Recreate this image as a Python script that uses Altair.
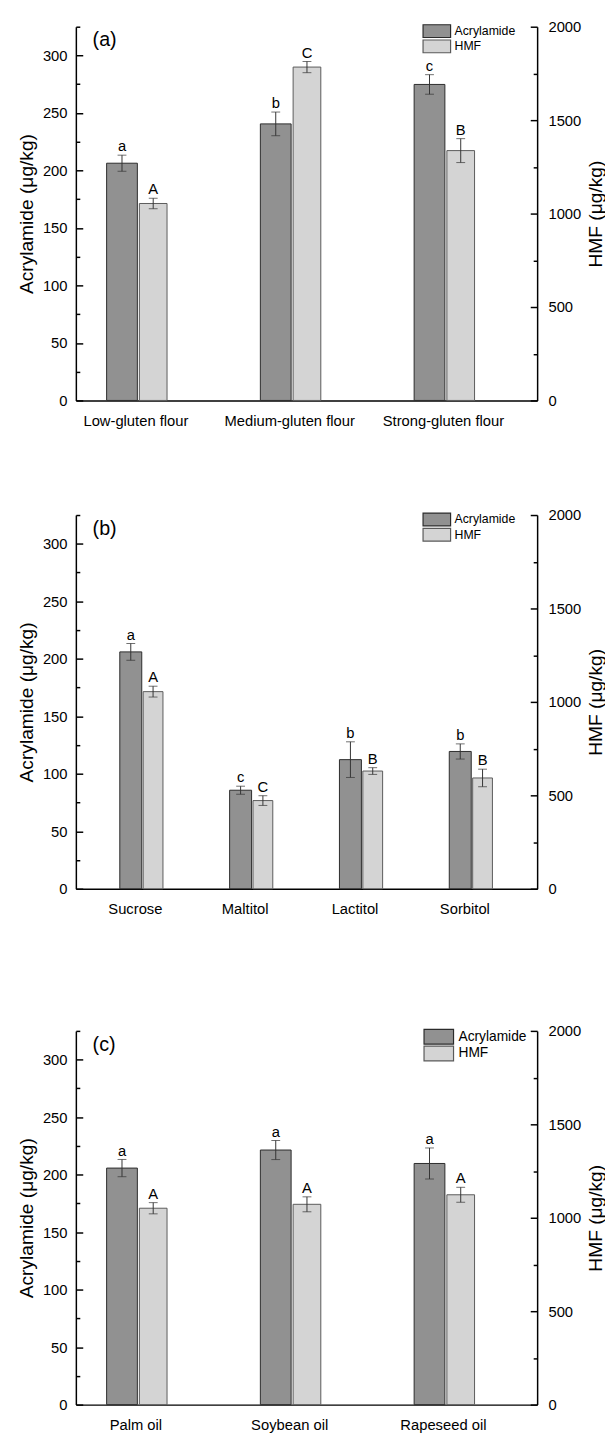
import json
import altair as alt
import pandas as pd

FONT = "Liberation Sans"

# ---------------- data ----------------
series_names = ["Acrylamide", "HMF"]

cats_a = ["Low-gluten flour", "Medium-gluten flour", "Strong-gluten flour"]
acr_a = [206.3, 240.5, 274.8]
acr_err_a = [7.0, 10.3, 8.5]
hmf_a = [1054, 1784, 1337]
hmf_err_a = [28, 30, 64]
let_acr_a = ["a", "b", "c"]
let_hmf_a = ["A", "C", "B"]

cats_b = ["Sucrose", "Maltitol", "Lactitol", "Sorbitol"]
acr_b = [206.0, 85.7, 112.3, 119.4]
acr_err_b = [7.3, 3.5, 15.5, 6.6]
hmf_b = [1055, 472, 630, 593]
hmf_err_b = [29, 26, 18, 47]
let_acr_b = ["a", "c", "b", "b"]
let_hmf_b = ["A", "C", "B", "B"]

cats_c = ["Palm oil", "Soybean oil", "Rapeseed oil"]
acr_c = [205.7, 221.4, 209.7]
acr_err_c = [7.5, 8.3, 13.5]
hmf_c = [1051, 1072, 1123]
hmf_err_c = [30, 40, 40]
let_acr_c = ["a", "a", "a"]
let_hmf_c = ["A", "A", "A"]

left_ticks = list(range(0, 326, 25))
right_ticks = list(range(0, 2001, 250))

# ---------------- style ----------------
C_ACR = "#919191"
C_HMF = "#d4d4d4"
S_ACR = "#2b2b2b"
S_HMF = "#5a5a5a"
ERR = "#333333"
W, H = 469, 380
TITLE_FS = 19.5


def y_axis_left():
    return alt.Axis(
        title="Acrylamide (μg/kg)", values=left_ticks, grid=False, format="d",
        labelExpr="datum.value % 50 === 0 ? datum.label : ''",
        tickSize={"condition": {"test": "datum.value % 50 === 0", "expr": "-7"}, "expr": "-4"},
        labelPadding=16, tickColor="black", tickWidth=1.5, domainColor="black",
        domainWidth=1.5, labelFontSize=15, labelColor="black", labelFont=FONT,
        labelOverlap=False, titleFontSize=TITLE_FS, titleFontWeight="normal",
        titleColor="black", titleFont=FONT, titleX=-50.5, titleY=H / 2,
        titleAngle=270, titleAlign="center", titleBaseline="middle",
    )


def y_axis_right():
    return alt.Axis(
        title="HMF (μg/kg)", orient="right", values=right_ticks, grid=False, format="d",
        labelExpr="datum.value % 500 === 0 ? datum.label : ''",
        tickSize={"condition": {"test": "datum.value % 500 === 0", "expr": "-7"}, "expr": "-4"},
        labelPadding=18, tickColor="black", tickWidth=1.5, domainColor="black",
        domainWidth=1.5, labelFontSize=15, labelColor="black", labelFont=FONT,
        labelOverlap=False, titleFontSize=TITLE_FS, titleFontWeight="normal",
        titleColor="black", titleFont=FONT, titleX=59, titleY=H / 2,
        titleAngle=270, titleAlign="center", titleBaseline="middle",
    )


def panel(cats, acr, acr_err, hmf, hmf_err, la, lh, tag, domain, lab_off,
          leg, extra_title=False):
    n = len(cats)
    df = pd.DataFrame({
        "idx": list(range(1, n + 1)), "cat": cats, "acr": acr, "acr_err": acr_err,
        "hmf": hmf, "hmf_err": hmf_err, "la": la, "lh": lh,
    })
    base = alt.Chart(df).transform_calculate(
        ax0="datum.idx - 0.2", ax1="datum.idx", axc="datum.idx - 0.1",
        hx0="datum.idx + 0.013", hx1="datum.idx + 0.193", hxc="datum.idx + 0.103",
        alo="datum.acr - datum.acr_err", ahi="datum.acr + datum.acr_err",
        hlo="datum.hmf - datum.hmf_err", hhi="datum.hmf + datum.hmf_err",
    )
    xscale = alt.Scale(domain=domain, nice=False, zero=False)
    axis_kw = dict(
        values=list(range(1, n + 1)),
        labelExpr=json.dumps(cats) + "[datum.value - 1]",
        ticks=False, grid=False, domainColor="black", domainWidth=1.5,
        labelFontSize=15, labelColor="black", labelFont=FONT, labelPadding=13,
        labelOffset=lab_off, labelOverlap=False, labelFlush=False,
    )
    if extra_title:
        xaxis = alt.Axis(title=" ", titleFontSize=14, titlePadding=14, **axis_kw)
    else:
        xaxis = alt.Axis(title=None, **axis_kw)

    def X(f):
        return alt.X(f + ":Q", scale=xscale, axis=xaxis)

    ysl = alt.Scale(domain=[0, 325], nice=False, zero=True)
    ysr = alt.Scale(domain=[0, 2000], nice=False, zero=True)

    def YL(f):
        return alt.Y(f + ":Q", scale=ysl, axis=y_axis_left())

    def YR(f):
        return alt.Y(f + ":Q", scale=ysr, axis=y_axis_right())

    left = alt.layer(
        base.mark_rect(color=C_ACR, stroke=S_ACR, strokeWidth=1).encode(
            x=X("ax0"), x2="ax1", y=YL("acr"), y2=alt.datum(0)),
        base.mark_rule(color=ERR, strokeWidth=1).encode(
            x=X("axc"), y=YL("alo"), y2="ahi"),
        base.mark_tick(orient="horizontal", size=9, thickness=1, color=ERR).encode(
            x=X("axc"), y=YL("alo")),
        base.mark_tick(orient="horizontal", size=9, thickness=1, color=ERR).encode(
            x=X("axc"), y=YL("ahi")),
        base.mark_text(baseline="alphabetic", dy=-4, fontSize=15, font=FONT,
                       color="black").encode(x=X("axc"), y=YL("ahi"), text="la:N"),
    )
    right = alt.layer(
        base.mark_rect(color=C_HMF, stroke=S_HMF, strokeWidth=1).encode(
            x=X("hx0"), x2="hx1", y=YR("hmf"), y2=alt.datum(0)),
        base.mark_rule(color=ERR, strokeWidth=1).encode(
            x=X("hxc"), y=YR("hlo"), y2="hhi"),
        base.mark_tick(orient="horizontal", size=9, thickness=1, color=ERR).encode(
            x=X("hxc"), y=YR("hlo")),
        base.mark_tick(orient="horizontal", size=9, thickness=1, color=ERR).encode(
            x=X("hxc"), y=YR("hhi")),
        base.mark_text(baseline="alphabetic", dy=-4, fontSize=15, font=FONT,
                       color="black").encode(x=X("hxc"), y=YR("hhi"), text="lh:N"),
    )

    extras = [
        alt.Chart(alt.Data(values=[{"t": tag}])).mark_text(
            align="left", baseline="middle", fontSize=20, font=FONT, color="black"
        ).encode(x=alt.value(17), y=alt.value(14), text="t:N")
    ]
    fills = [C_ACR, C_HMF]
    strokes = [S_ACR, S_HMF]
    for i, name in enumerate(series_names):
        y0 = leg["y0"] + i * leg["step"]
        d = alt.Data(values=[{"s": name}])
        extras.append(
            alt.Chart(d).mark_rect(fill=fills[i], stroke=strokes[i], strokeWidth=1.2).encode(
                x=alt.value(leg["x0"]), x2=alt.value(leg["x0"] + leg["w"]),
                y=alt.value(y0), y2=alt.value(y0 + leg["h"]))
        )
        extras.append(
            alt.Chart(d).mark_text(align="left", baseline="middle", fontSize=leg["fs"],
                                   font=FONT, color="black").encode(
                x=alt.value(leg["x0"] + leg["w"] + leg["gap"]),
                y=alt.value(y0 + leg["h"] / 2), text="s:N")
        )

    return alt.layer(left, right, *extras).resolve_scale(y="independent").properties(
        width=W, height=H, view=alt.ViewBackground(strokeWidth=0, stroke="transparent"))


leg_small = {"x0": 353, "w": 28, "y0": -2, "h": 13, "step": 15.5, "gap": 4, "fs": 12.5}
leg_big = {"x0": 354, "w": 30, "y0": -1.5, "h": 15, "step": 17, "gap": 5, "fs": 14}

pa = panel(cats_a, acr_a, acr_err_a, hmf_a, hmf_err_a, let_acr_a, let_hmf_a,
           "(a)", [0.6, 3.6], -2, leg_small)
pb = panel(cats_b, acr_b, acr_err_b, hmf_b, hmf_err_b, let_acr_b, let_hmf_b,
           "(b)", [0.4, 4.6], -7, leg_small, extra_title=True)
pc = panel(cats_c, acr_c, acr_err_c, hmf_c, hmf_err_c, let_acr_c, let_hmf_c,
           "(c)", [0.6, 3.6], -2, leg_big)

chart = alt.vconcat(pa, pb, pc, spacing=81.5).configure_view(
    stroke="transparent", strokeWidth=0
).configure_axis(grid=False).configure(font=FONT).properties(
    padding={"left": 8, "top": 0, "right": 0, "bottom": 0}
)

chart.save("out.html", embed_options={"renderer": "svg", "actions": False})
